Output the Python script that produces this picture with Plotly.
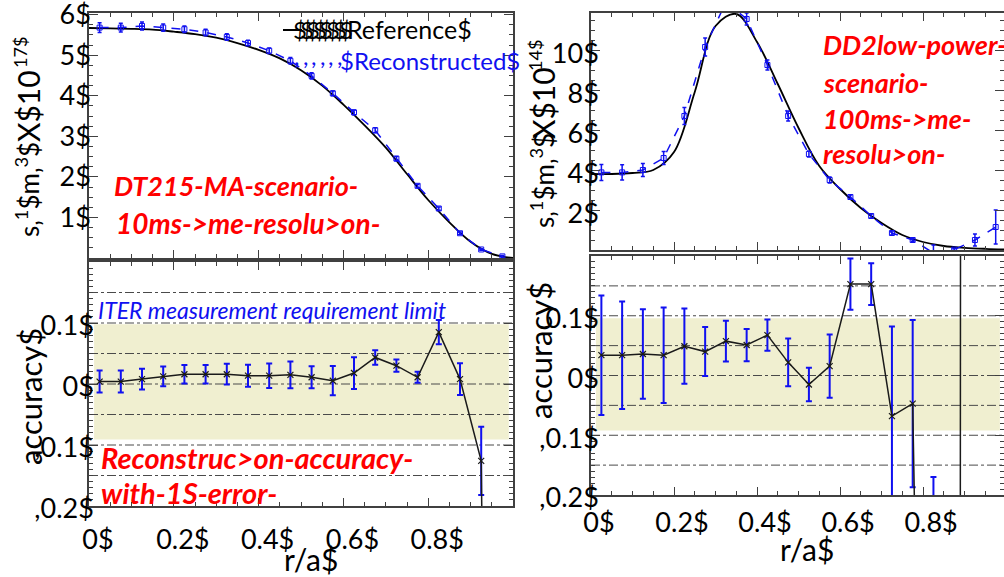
import plotly.graph_objects as go

W, H = 1004, 577
FONT = "Lato"

# ---------------- data ----------------
# DT 15 MA scenario (left column)
dt_ref_r = [0.0, 0.05, 0.1, 0.15, 0.2, 0.25, 0.3, 0.35, 0.4, 0.45, 0.5,
            0.55, 0.6, 0.65, 0.7, 0.75, 0.8, 0.85, 0.9, 0.95, 1.0]
dt_ref = [5.67, 5.66, 5.65, 5.63, 5.58, 5.52, 5.43, 5.30, 5.13, 4.92, 4.63,
          4.25, 3.78, 3.27, 2.72, 2.07, 1.43, 0.88, 0.40, 0.10, 0.0]

rec_r = [0.025, 0.075, 0.125, 0.175, 0.225, 0.275, 0.325, 0.375, 0.425, 0.475,
         0.525, 0.575, 0.625, 0.675, 0.725, 0.775, 0.825, 0.875, 0.925, 0.975]
dt_rec = [5.68, 5.68, 5.72, 5.68, 5.64, 5.56, 5.45, 5.30, 5.11, 4.86,
          4.49, 4.06, 3.59, 3.15, 2.45, 1.78, 1.22, 0.61, 0.21, 0.04]
dt_rec_err = [0.12, 0.11, 0.10, 0.09, 0.08, 0.08, 0.08, 0.07, 0.07, 0.08,
              0.08, 0.06, 0.06, 0.06, 0.05, 0.04, 0.04, 0.03, 0.02, 0.02]

dt_acc = [0.004, 0.004, 0.008, 0.0125, 0.016, 0.016, 0.016, 0.0136, 0.0136, 0.015,
          0.011, 0.0054, 0.018, 0.0435, 0.030, 0.011, 0.085, 0.008, -0.126, -3.0]
dt_acc_err = [0.018, 0.018, 0.017, 0.016, 0.015, 0.015, 0.017, 0.018, 0.020, 0.022,
              0.018, 0.024, 0.026, 0.012, 0.010, 0.009, 0.020, 0.026, 0.056, 0.0]

# DD low power scenario (right column)
dd_ref_r = dt_ref_r
dd_ref = [3.80, 3.80, 3.85, 4.00, 4.90, 7.90, 11.20, 11.80, 10.40, 8.30, 6.10,
          4.20, 3.05, 2.10, 1.35, 0.75, 0.40, 0.20, 0.11, 0.06, 0.03]
dd_rec = [3.88, 3.88, 4.00, 4.60, 6.70, 10.15, 12.40, 11.55, 9.25, 6.70,
          4.80, 3.50, 2.65, 1.70, 0.85, 0.50, -0.15, 0.02, 0.50, 1.15]
dd_rec_err = [0.40, 0.38, 0.33, 0.33, 0.42, 0.45, 0.40, 0.30, 0.25, 0.25,
              0.15, 0.15, 0.10, 0.10, 0.10, 0.08, 0.40, 0.05, 0.30, 0.85]

dd_acc_r = rec_r[:19]
dd_acc = [0.034, 0.034, 0.036, 0.034, 0.049, 0.040, 0.0575, 0.051, 0.0676, 0.022,
          -0.015, 0.0156, 0.153, 0.153, -0.068, -0.047, -2.0, -15.0, 35.0]
dd_acc_err = [0.100, 0.090, 0.075, 0.080, 0.063, 0.041, 0.034, 0.027, 0.026, 0.040,
              0.028, 0.053, 0.043, 0.035, 0.150, 0.140, 1.83, 0.0, 0.0]

# requirement band (accuracy limits as drawn)
dt_band = [-0.091, 0.098]
dd_band = [-0.092, 0.096]
grid_levels = [-0.15, -0.10, -0.05, 0.0, 0.05, 0.10, 0.15]

# tick labels
x_tickvals = [0, 0.2, 0.4, 0.6, 0.8]
x_ticktext = ["0$", "0.2$", "0.4$", "0.6$", "0.8$"]
dt_y_tickvals = [1, 2, 3, 4, 5, 6]
dt_y_ticktext = ["1$", "2$", "3$", "4$", "5$", "6$"]
dd_y_tickvals = [2, 4, 6, 8, 10]
dd_y_ticktext = ["2$", "4$", "6$", "8$", "10$"]
acc_tickvals = [-0.2, -0.1, 0.0, 0.1]
acc_ticktext = [",0.2$", ",0.1$", "0$", "0.1$"]

# ---------------- figure ----------------
BLUE = "#1010f0"
FRAME = "#404040"


def pxx(x):
    return x / W


def pxy(y):
    return 1 - y / H


fig = go.Figure()

# top-left: DT profile
fig.add_trace(go.Scatter(x=dt_ref_r, y=dt_ref, mode="lines", line=dict(color="black", width=1.8, shape="spline"),
                         xaxis="x", yaxis="y"))
fig.add_trace(go.Scatter(x=rec_r, y=dt_rec, mode="lines+markers",
                         line=dict(color=BLUE, width=1.5, dash="dash"),
                         marker=dict(symbol="square-open", size=5, color=BLUE, line=dict(width=1)),
                         error_y=dict(type="data", array=dt_rec_err, color=BLUE, thickness=1.5, width=2),
                         xaxis="x", yaxis="y"))
# bottom-left: DT accuracy
fig.add_trace(go.Scatter(x=rec_r, y=dt_acc, mode="lines+markers",
                         line=dict(color="#1a1a1a", width=1.5),
                         marker=dict(symbol="x-thin", size=6, color="#1a1a1a", line=dict(width=1.2, color="#1a1a1a")),
                         error_y=dict(type="data", array=dt_acc_err, color=BLUE, thickness=2, width=3),
                         xaxis="x2", yaxis="y2"))
# top-right: DD profile
fig.add_trace(go.Scatter(x=dd_ref_r, y=dd_ref, mode="lines", line=dict(color="black", width=1.8, shape="spline"),
                         xaxis="x3", yaxis="y3"))
fig.add_trace(go.Scatter(x=rec_r, y=dd_rec, mode="lines+markers",
                         line=dict(color=BLUE, width=1.5, dash="dash"),
                         marker=dict(symbol="square-open", size=5, color=BLUE, line=dict(width=1)),
                         error_y=dict(type="data", array=dd_rec_err, color=BLUE, thickness=1.5, width=2),
                         xaxis="x3", yaxis="y3"))
# bottom-right: DD accuracy
fig.add_trace(go.Scatter(x=dd_acc_r, y=dd_acc, mode="lines+markers",
                         line=dict(color="#1a1a1a", width=1.5),
                         marker=dict(symbol="x-thin", size=6, color="#1a1a1a", line=dict(width=1.2, color="#1a1a1a")),
                         error_y=dict(type="data", array=dd_acc_err, color=BLUE, thickness=2, width=3),
                         xaxis="x4", yaxis="y4"))

tickfont = dict(family=FONT, size=27, color="black")


def xaxis(domain, rng, labels, anchor, standoff=0, shift=0):
    return dict(domain=domain, range=rng, anchor=anchor, showgrid=False, zeroline=False, automargin=False,
                showline=True, linecolor=FRAME, linewidth=1.5, mirror="allticks",
                ticks="inside", ticklen=8, tickcolor=FRAME, tickwidth=1,
                tickmode="array", tickvals=x_tickvals, ticktext=x_ticktext,
                showticklabels=labels, tickfont=tickfont, ticklabelstandoff=standoff,
                ticklabelshift=shift, ticklabeloverflow="allow",
                minor=dict(ticks="inside", ticklen=4, dtick=0.05, tick0=0, tickcolor=FRAME, showgrid=False))


def yaxis(domain, rng, tv, tt, mdtick, anchor, standoff, shift=0):
    return dict(domain=domain, range=rng, anchor=anchor, showgrid=False, zeroline=False, automargin=False,
                showline=True, linecolor=FRAME, linewidth=1.5, mirror="allticks",
                ticks="inside", ticklen=9, tickcolor=FRAME, tickwidth=1,
                tickmode="array", tickvals=tv, ticktext=tt, tickfont=tickfont,
                ticklabelstandoff=standoff, ticklabelshift=shift, ticklabeloverflow="allow",
                minor=dict(ticks="inside", ticklen=4, dtick=mdtick, tick0=0, tickcolor=FRAME, showgrid=False))


L_X = [pxx(89), pxx(513)]
R_X = [pxx(591), 1.0]

fig.update_layout(
    width=W, height=H, margin=dict(l=0, r=0, t=0, b=0, autoexpand=False),
    paper_bgcolor="white", plot_bgcolor="white", showlegend=False,
    font=dict(family=FONT),
    xaxis=xaxis(L_X, [0, 1.0], False, "y"),
    yaxis=yaxis([pxy(258), pxy(13)], [0, 6.04], dt_y_tickvals, dt_y_ticktext, 0.25, "x", -9),
    xaxis2=xaxis(L_X, [0, 1.0], True, "y2", 9, 9),
    yaxis2=yaxis([pxy(506), pxy(262)], [-0.2, 0.2], acc_tickvals, acc_ticktext, 0.01, "x2", -12, 3),
    xaxis3=xaxis(R_X, [0, 0.995], False, "y3"),
    yaxis3=yaxis([pxy(250), pxy(13)], [0, 11.85], dd_y_tickvals, dd_y_ticktext, 0.5, "x3", -15, 4),
    xaxis4=xaxis(R_X, [0, 0.995], True, "y4", 3, 8),
    yaxis4=yaxis([pxy(495), pxy(256)], [-0.2, 0.2], acc_tickvals, acc_ticktext, 0.01, "x4", -15, 3),
)

shapes = []
# requirement bands
shapes.append(dict(type="rect", xref="x2 domain", yref="y2", x0=0.012, x1=0.99, y0=dt_band[0], y1=dt_band[1],
                   fillcolor="rgb(240,239,208)", line=dict(width=0), layer="below"))
shapes.append(dict(type="rect", xref="x4 domain", yref="y4", x0=0.012, x1=0.99, y0=dd_band[0], y1=dd_band[1],
                   fillcolor="rgb(240,239,208)", line=dict(width=0), layer="below"))
for xr, yr in (("x2 domain", "y2"), ("x4 domain", "y4")):
    for g in grid_levels:
        shapes.append(dict(type="line", xref=xr, yref=yr, x0=0, x1=1, y0=g, y1=g,
                           line=dict(color="#4a4a4a", width=1, dash="dashdot"), layer="below"))
# legend line sample
shapes.append(dict(type="line", xref="paper", yref="paper", x0=pxx(283), x1=pxx(302), y0=pxy(30), y1=pxy(30),
                   line=dict(color="black", width=2)))
fig.update_layout(shapes=shapes)

ann = []


def add(text, x, y, size, color="black", xanchor="left", yanchor="middle", angle=0):
    ann.append(dict(text=text, x=pxx(x), y=pxy(y), xref="paper", yref="paper", showarrow=False,
                    xanchor=xanchor, yanchor=yanchor, textangle=angle, borderpad=0,
                    font=dict(family=FONT, size=size, color=color)))


RED = "#ff0000"
# red scenario labels
add("<b><i>DT215-MA-scenario-</i></b>", 113, 186, 27, RED)
add("<b><i>10ms->me-resolu>on-</i></b>", 115, 223, 28, RED)
add("<b><i>DD2low-power-</i></b>", 822, 44, 27, RED)
add("<b><i>scenario-</i></b>", 822, 82, 27, RED)
add("<b><i>100ms->me-</i></b>", 822, 118, 27, RED)
add("<b><i>resolu>on-</i></b>", 822, 153, 27, RED)
add("<b><i>Reconstruc>on-accuracy-</i></b>", 100, 457, 29, RED)
add("<b><i>with-1S-error-</i></b>", 100, 492, 29, RED)
# requirement text
add("<i>ITER measurement requirement limit</i>", 97, 310, 23, BLUE)
# legend texts
for i in range(8):
    add("$", 292 + 6.6 * i, 29, 24, "black")
add("Reference$", 346, 29, 25, "black")
for i in range(6):
    add(",", 293 + 8.5 * i, 56, 24, BLUE)
add("$Reconstructed$", 339, 60, 24, BLUE)
# axis titles
add("accuracy$", 30, 397, 31, "black", "center", "middle", -90)
add("accuracy$", 540, 351, 31, "black", "center", "middle", -90)
add("r/a$", 311, 559, 30, "black", "center", "middle")
add("r/a$", 807, 549, 30, "black", "center", "middle")
add("s‚<sup>1</sup>$m‚<sup>3</sup>$", 27, 190, 26, "black", "center", "middle", -90)
add("X$10", 28, 106, 30, "black", "center", "middle", -90)
add("17$", 20, 53, 18, "black", "center", "middle", -90)
add("s‚<sup>1</sup>$m‚<sup>3</sup>$", 542, 181, 26, "black", "center", "middle", -90)
add("X$10", 543, 103, 30, "black", "center", "middle", -90)
add("14$", 535, 56, 18, "black", "center", "middle", -90)
fig.update_layout(annotations=ann)

fig.write_html("out.html", config={"displayModeBar": False},
               post_script="document.body.style.margin='0';document.body.style.overflow='hidden';")
